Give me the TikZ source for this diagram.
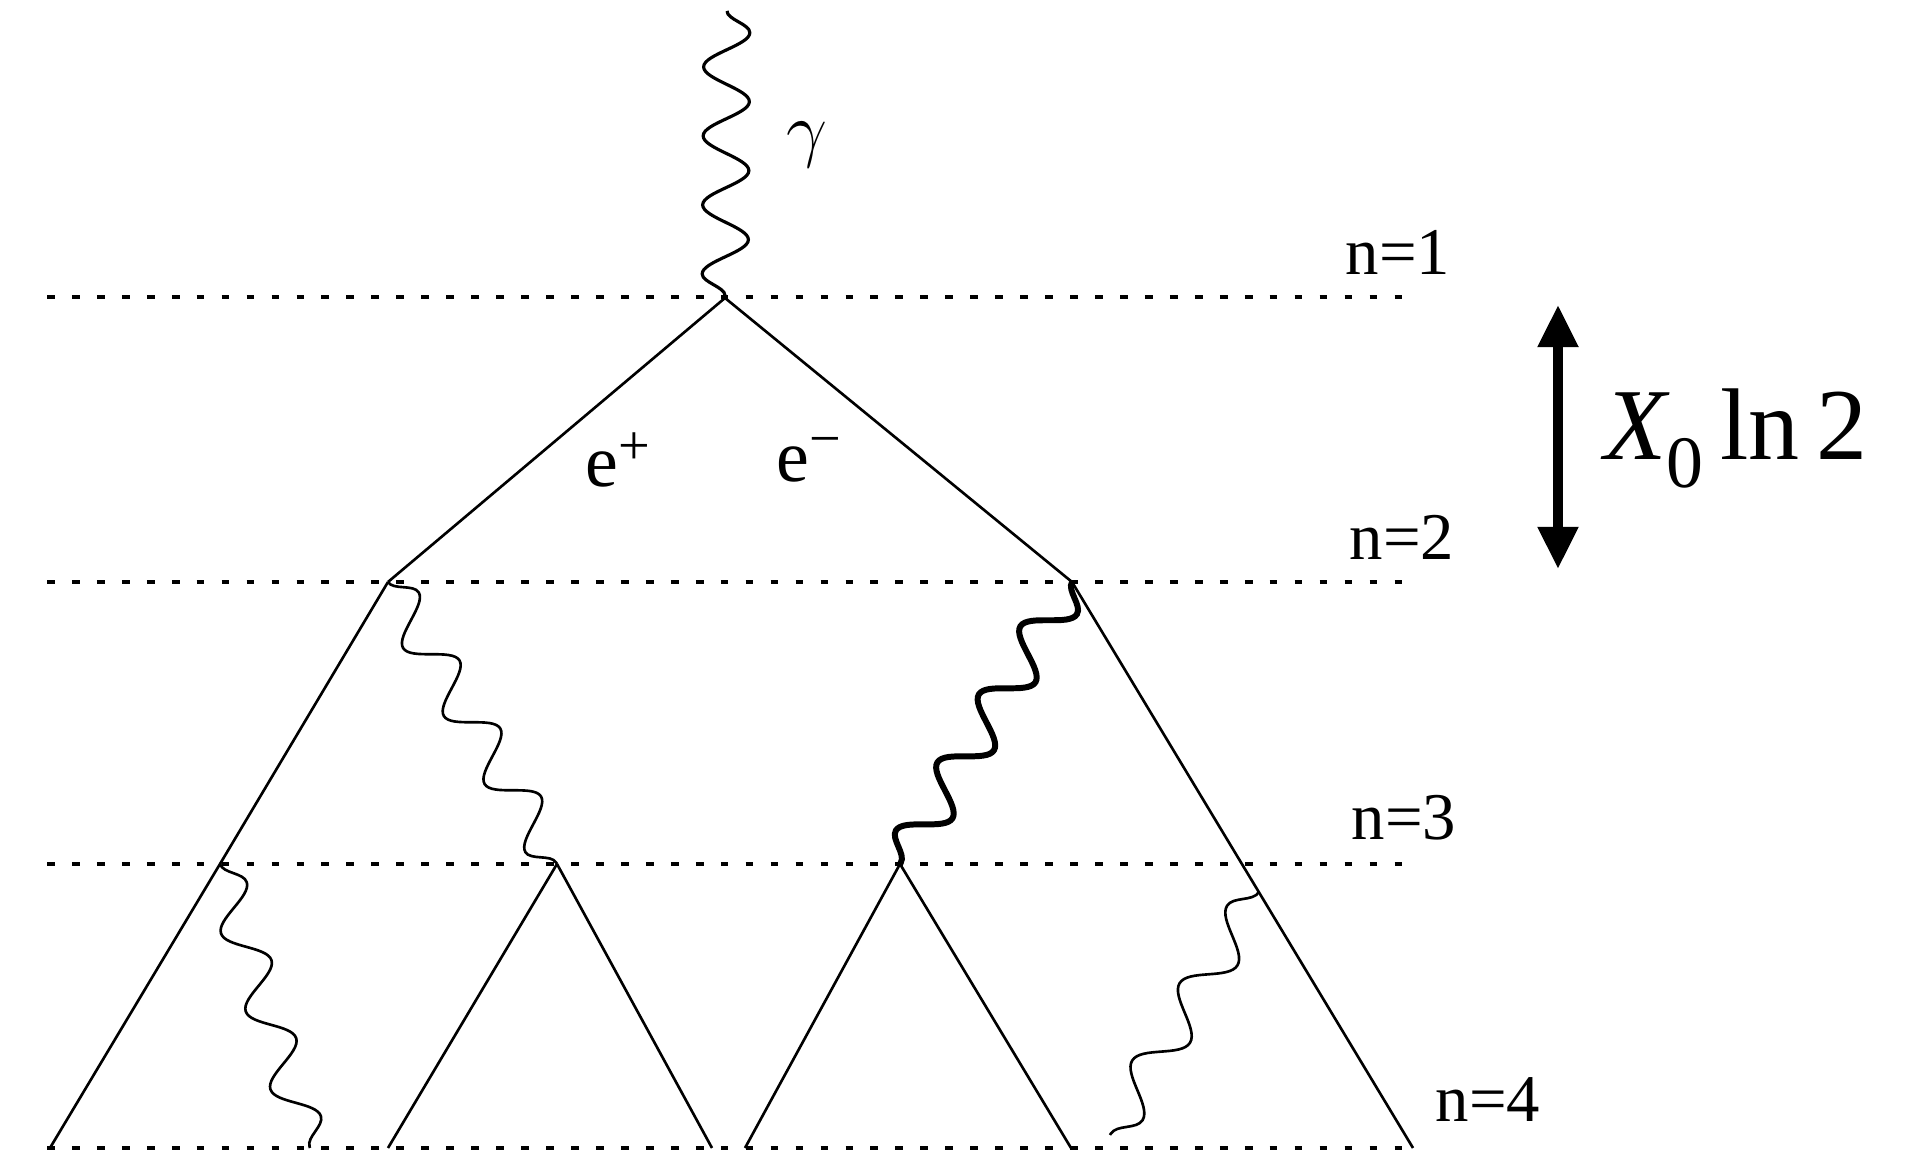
\documentclass[tikz,border=0pt]{standalone}
\usepackage{fontspec}
\setmainfont{Liberation Serif}
\usetikzlibrary{decorations.pathmorphing,arrows.meta,calc}
\tikzset{
    livello/.style={line width=1pt, dash pattern=on 2.2pt off 4.9pt},
    fotone/.style={decorate, decoration={snake, amplitude=2.3mm, segment length=#1}},
    fotone/.default=6.9mm,
    freccia/.tip={Triangle[length=12pt,width=11pt]}
}
\begin{document}
\begin{tikzpicture}[line width=0.75pt]
        \useasboundingbox (0,0) rectangle (19.31,11.56);
        % vertici
        \coordinate (g) at (7.27,11.45);\coordinate (v1) at (7.25,8.58);
        \coordinate (v2l) at (3.88,5.74);\coordinate (v2r) at (10.72,5.74);
        \coordinate (v3a) at (2.20,2.92);\coordinate (v3b) at (5.57,2.92);\coordinate (v3c) at (9.00,2.92);
        \coordinate (b1) at (0.50,0.08);\coordinate (b2) at (3.10,0.08);\coordinate (b3) at (3.88,0.08);\coordinate (b4) at (7.12,0.08);
        \coordinate (b5) at (7.45,0.08);\coordinate (b6) at (10.71,0.08);\coordinate (b7) at (11.10,0.21);\coordinate (b8) at (14.13,0.08);
        \coordinate (v3d) at ($(v2r)!0.548!(b8)$);
        % livelli
        \coordinate (l1a) at (0.47,8.59);\coordinate (l1b) at (14.03,8.59);
        \coordinate (l2a) at (0.47,5.74);\coordinate (l2b) at (14.03,5.74);
        \coordinate (l3a) at (0.47,2.92);\coordinate (l3b) at (14.03,2.92);
        \coordinate (l4a) at (0.47,0.08);\coordinate (l4b) at (14.10,0.08);
        \draw [livello] (l1a) -- (l1b);\draw [livello] (l2a) -- (l2b);
        \draw [livello] (l3a) -- (l3b);\draw [livello] (l4a) -- (l4b);
        % elettroni
        \draw (v1) -- (v2l);\draw (v1) -- (v2r);
        \draw (v2l) -- (v3a) -- (b1);\draw (v2r) -- (v3d) -- (b8);
        \draw (v3b) -- (b3);\draw (v3b) -- (b4);
        \draw (v3c) -- (b5);\draw (v3c) -- (b6);
        % fotoni
        \draw [fotone, line width=0.9pt] (g) -- (v1);
        \draw [fotone=7.93mm, decoration={amplitude=2.1mm}] (v2l) -- (v3b);
        \draw [fotone=7.97mm, decoration={amplitude=2.1mm}, line width=1.7pt] (v2r) -- (v3c);
        \draw [fotone=8.18mm, decoration={amplitude=2mm}] (v3a) -- (b2);
        \draw [fotone=9.07mm, decoration={amplitude=2mm, mirror}] (v3d) -- (b7);
        % scritte
        \node (gam) at (8.07,10.11) {\fontsize{22}{24}\selectfont$\gamma$};
        \node (ep) at (6.18,6.96) {\fontsize{21}{24}\selectfont e\raisebox{6pt}{\fontsize{16}{16}\selectfont +}};
        \node (em) at (8.09,6.96) {\fontsize{21}{24}\selectfont e\raisebox{7pt}{\fontsize{16}{16}\selectfont −}};
        \node (n1) at (13.98,9.04) {\fontsize{19}{21}\selectfont n=1};
        \node (n2) at (14.02,6.19) {\fontsize{19}{21}\selectfont n=2};
        \node (n3) at (14.04,3.38) {\fontsize{19}{21}\selectfont n=3};
        \node (n4) at (14.88,0.56) {\fontsize{19}{21}\selectfont n=4};
        % freccia
        \coordinate (a1) at (15.58,8.51);\coordinate (a2) at (15.58,5.87);
        \draw [line width=2.7pt, freccia-freccia] (a1) -- (a2);
        \node [anchor=base west, inner sep=0pt] (x0) at (16.03,6.96) {\fontsize{29}{31}\selectfont\textit{X}\kern-1pt\raisebox{-7.7pt}{\fontsize{21}{21}\selectfont 0}\,ln\,2};
    \end{tikzpicture}
\end{document}
